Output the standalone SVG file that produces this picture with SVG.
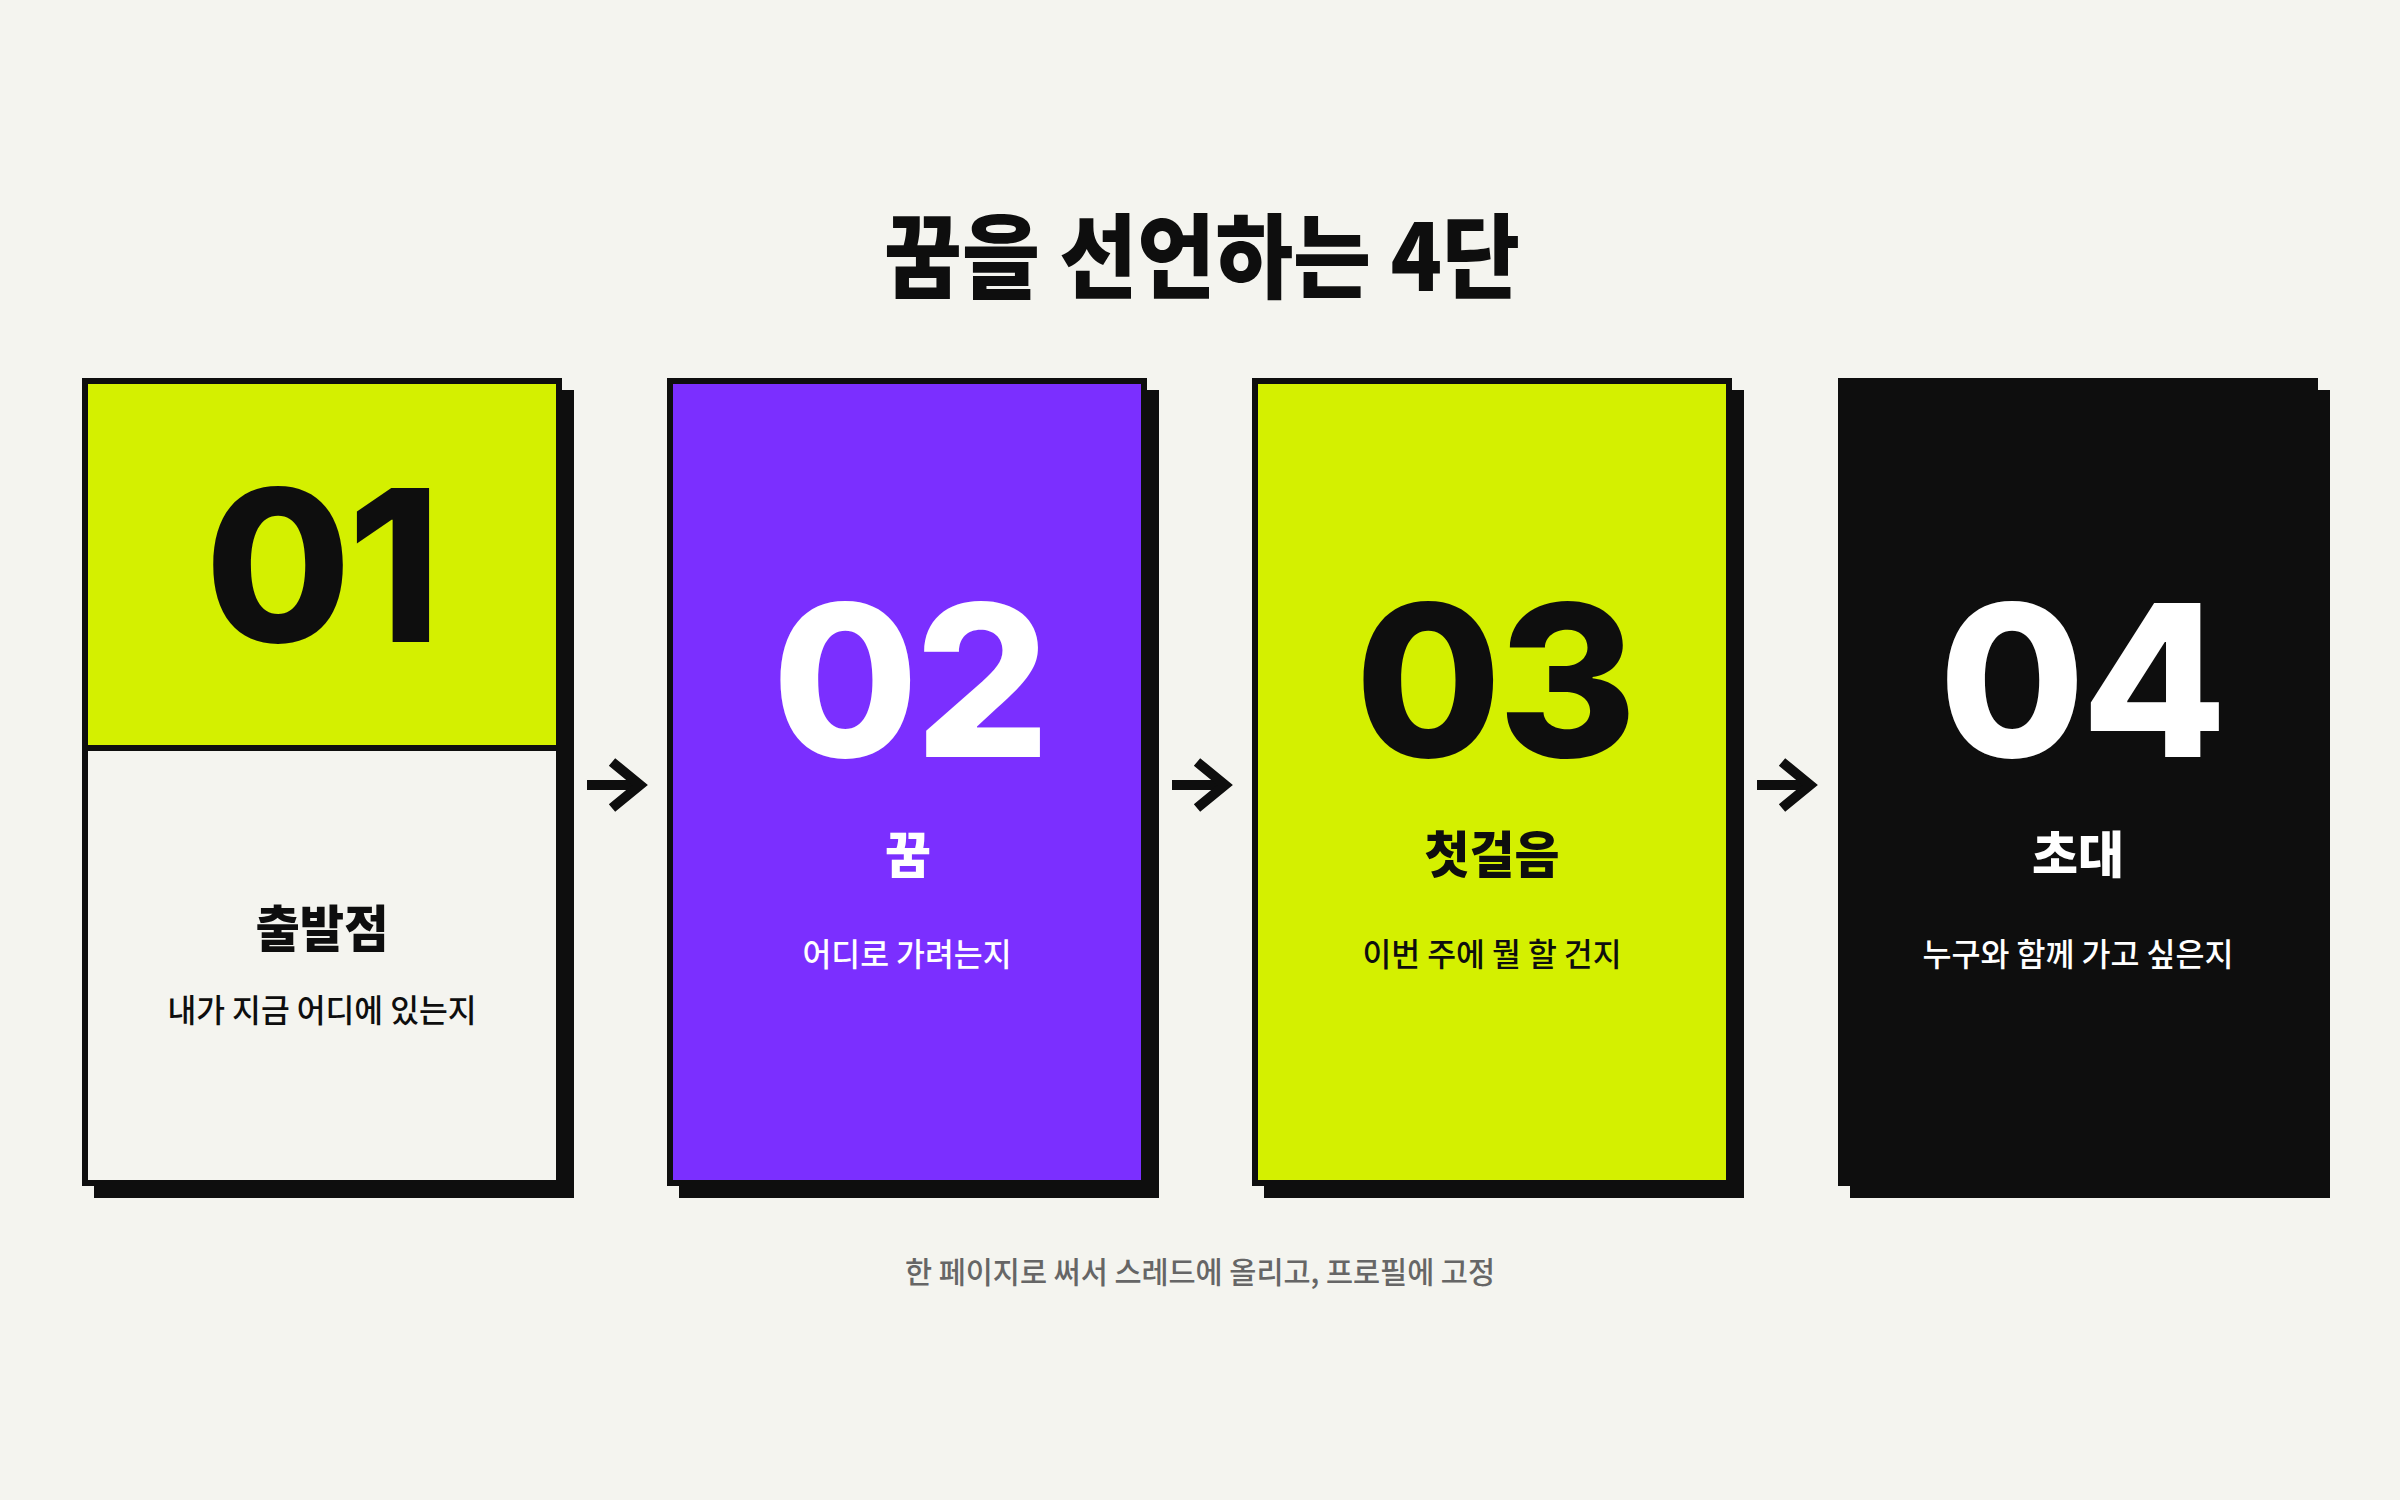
<svg xmlns="http://www.w3.org/2000/svg" width="2400" height="1500" viewBox="0 0 2400 1500">
  <style>
    .kr { font-family: "Noto Sans CJK KR", "Noto Sans", sans-serif; }
    .num { font-family: Inter, "Liberation Sans", sans-serif; font-weight: 800; font-size: 212px; letter-spacing: -4px; text-anchor: middle; }
    .title { font-weight: 900; font-size: 92px; fill: #0e0e0e; text-anchor: middle; }
    .ctitle { font-weight: 800; font-size: 50px; text-anchor: middle; }
    .csub { font-weight: 500; font-size: 32px; text-anchor: middle; }
    .cap { font-weight: 500; font-size: 30px; fill: #666666; text-anchor: middle; }
    .shadow { fill: #0e0e0e; }
    .frame { stroke: #0e0e0e; stroke-width: 6; }
    .arrow { fill: none; stroke: #0e0e0e; stroke-width: 10; }
  </style>
  <rect x="0" y="0" width="2400" height="1500" fill="#f4f4ef"/>

  <text id="heading" class="kr title" x="1202" y="291" textLength="636" lengthAdjust="spacingAndGlyphs">꿈을 선언하는 4단</text>

  <g id="card-01">
    <rect class="shadow" x="94" y="390" width="480" height="808"/>
    <rect class="frame" x="85" y="381" width="474" height="802" fill="#f4f4ef"/>
    <rect x="85" y="381" width="474" height="367" fill="#d4f000"/>
    <rect class="frame" x="85" y="381" width="474" height="802" fill="none"/>
    <line x1="85" y1="748" x2="559" y2="748" stroke="#0e0e0e" stroke-width="6"/>
    <text class="num" x="321" y="642" fill="#0e0e0e">01</text>
    <text class="kr ctitle" x="322" y="947" fill="#0e0e0e" textLength="133" lengthAdjust="spacingAndGlyphs">출발점</text>
    <text class="kr csub" x="322" y="1022" fill="#0e0e0e" textLength="309" lengthAdjust="spacingAndGlyphs">내가 지금 어디에 있는지</text>
  </g>

  <g id="card-02">
    <rect class="shadow" x="679" y="390" width="480" height="808"/>
    <rect class="frame" x="670" y="381" width="474" height="802" fill="#7b2fff"/>
    <text class="num" x="909" y="757" fill="#ffffff">02</text>
    <text class="kr ctitle" x="908" y="873" fill="#ffffff" textLength="46" lengthAdjust="spacingAndGlyphs">꿈</text>
    <text class="kr csub" x="907" y="966" fill="#ffffff" textLength="209" lengthAdjust="spacingAndGlyphs">어디로 가려는지</text>
  </g>

  <g id="card-03">
    <rect class="shadow" x="1264" y="390" width="480" height="808"/>
    <rect class="frame" x="1255" y="381" width="474" height="802" fill="#d4f000"/>
    <text class="num" x="1494" y="757" fill="#0e0e0e">03</text>
    <text class="kr ctitle" x="1492" y="873" fill="#0e0e0e" textLength="135" lengthAdjust="spacingAndGlyphs">첫걸음</text>
    <text class="kr csub" x="1492" y="966" fill="#0e0e0e" textLength="259" lengthAdjust="spacingAndGlyphs">이번 주에 뭘 할 건지</text>
  </g>

  <g id="card-04">
    <rect class="shadow" x="1850" y="390" width="480" height="808"/>
    <rect class="frame" x="1841" y="381" width="474" height="802" fill="#0e0e0e"/>
    <text class="num" x="2081" y="757" fill="#ffffff">04</text>
    <text class="kr ctitle" x="2078" y="873" fill="#ffffff" textLength="92" lengthAdjust="spacingAndGlyphs">초대</text>
    <text class="kr csub" x="2078" y="966" fill="#ffffff" textLength="311" lengthAdjust="spacingAndGlyphs">누구와 함께 가고 싶은지</text>
  </g>

  <g id="connectors">
    <g transform="translate(615,785)">
      <line class="arrow" x1="-28" y1="0" x2="24" y2="0"/>
      <polyline class="arrow" points="-3,-23 25,0 -3,23" stroke-miterlimit="10"/>
    </g>
    <g transform="translate(1200,785)">
      <line class="arrow" x1="-28" y1="0" x2="24" y2="0"/>
      <polyline class="arrow" points="-3,-23 25,0 -3,23" stroke-miterlimit="10"/>
    </g>
    <g transform="translate(1785,785)">
      <line class="arrow" x1="-28" y1="0" x2="24" y2="0"/>
      <polyline class="arrow" points="-3,-23 25,0 -3,23" stroke-miterlimit="10"/>
    </g>
  </g>

  <text id="caption" class="kr cap" x="1200" y="1283" textLength="590" lengthAdjust="spacingAndGlyphs">한 페이지로 써서 스레드에 올리고, 프로필에 고정</text>
</svg>
